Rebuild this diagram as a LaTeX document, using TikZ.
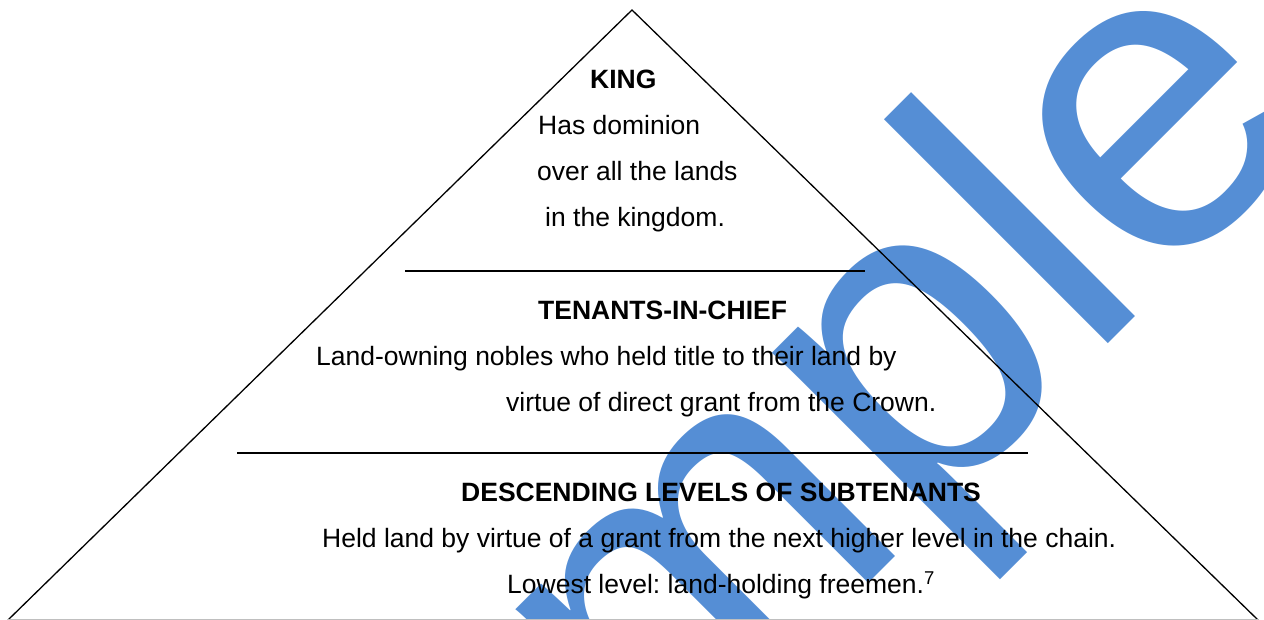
\documentclass[tikz,border=0pt]{standalone}
\usepackage{fontspec}
\setmainfont{Liberation Sans}
\definecolor{wmblue}{RGB}{85,142,213}
\frenchspacing
\begin{document}
\begin{tikzpicture}[x=1pt,y=1pt,
  txt/.style={anchor=base west, inner sep=0pt, font=\fontsize{26.5}{30}\selectfont},
  hd/.style={anchor=base west, inner sep=0pt, font=\fontsize{26.5}{30}\selectfont\bfseries},
  side/.style={line width=1.3pt, black},
  sep/.style={line width=1.6pt, black}]
\useasboundingbox (0,0) rectangle (1264,620);
% watermark
\node[anchor=base west, inner sep=0pt, rotate=45, text=wmblue,
      font=\fontsize{437}{437}\selectfont] (wm) at (280,-552) {Sample};
% triangle
\coordinate (apex) at (632,610);
\coordinate (bl) at (8,0);
\coordinate (br) at (1258,0);
\draw[side] (bl) -- (apex) -- (br);
\draw[line width=1.3pt, black!25] (bl) -- (br);
% separators
\coordinate (s1a) at (405,349);
\coordinate (s1b) at (865,349);
\coordinate (s2a) at (237,167);
\coordinate (s2b) at (1028,167);
\draw[sep] (s1a) -- (s1b);
\draw[sep] (s2a) -- (s2b);
% texts
\node[hd]  (king)  at (590,531) {KING};
\node[txt] (kingA) at (538,485) {Has dominion};
\node[txt] (kingB) at (537,439) {over all the lands};
\node[txt] (kingC) at (545,393) {in the kingdom.};
\node[hd]  (tic)   at (538,300) {TENANTS-IN-CHIEF};
\node[txt] (ticA)  at (316,254) {Land-owning nobles who held title to their land by};
\node[txt] (ticB)  at (506,208) {virtue of direct grant from the Crown.};
\node[hd]  (dls)   at (461,118) {DESCENDING LEVELS OF SUBTENANTS};
\node[txt] (dlsA)  at (322,72)  {Held land by virtue of a grant from the next higher level in the chain.};
\node[txt] (dlsB)  at (507,26)  {Lowest level: land-holding freemen.\textsuperscript{7}};
\end{tikzpicture}
\end{document}
